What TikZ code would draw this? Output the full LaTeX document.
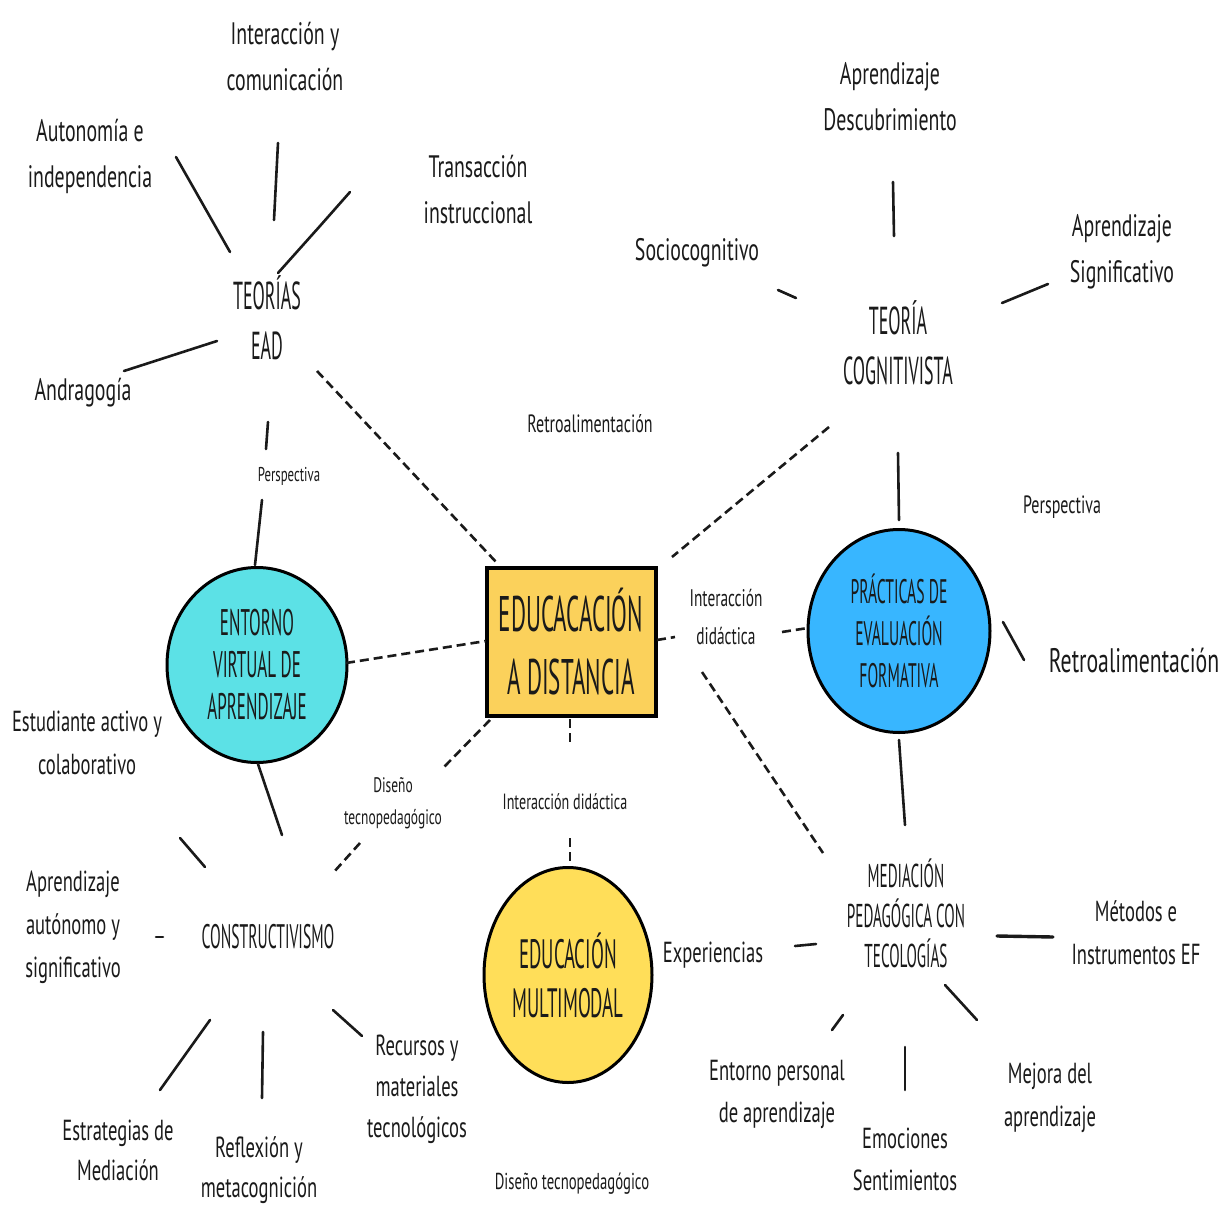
\documentclass[tikz,border=0pt]{standalone}
\usepackage{fontspec}
\setmainfont{PT Sans}[FakeStretch=0.64]
\newfontfamily\capsfont{PT Sans}[FakeStretch=0.46]
\usetikzlibrary{shapes.geometric}

\definecolor{boxyellow}{HTML}{FBD15B}
\definecolor{aqua}{HTML}{5CE1E6}
\definecolor{sky}{HTML}{38B6FF}
\definecolor{sun}{HTML}{FFDE59}
\definecolor{ink}{HTML}{1A1A1A}

\newcommand\hw[2]{\fontsize{#1}{#2}\selectfont}

\tikzset{
  hand/.style={font=\hw{31}{46}, align=center, inner sep=0pt, text=ink},
  note/.style={font=\hw{22}{32}, align=center, inner sep=0pt, text=ink},
  caps/.style={font=\capsfont\hw{39}{50}, align=center, inner sep=0pt, text=ink},
  bubble/.style={ellipse, draw=black, line width=3pt, inner sep=0pt,
                 font=\capsfont\hw{37}{42}, align=center, text=ink},
  link/.style={line width=2.6pt, line cap=round, draw=ink},
  dlink/.style={line width=2.6pt, draw=ink, dash pattern=on 9pt off 5pt}
}

\begin{document}
\begin{tikzpicture}[x=1pt,y=-1pt]
\useasboundingbox[fill=white] (0,0) rectangle (1224,1207);

% ---------- Theories of distance education ----------
\node[caps] (ead) at (267,318) {TEORÍAS\\EAD};
\node[hand] (interac) at (285,57) {Interacción y\\comunicación};
\node[hand] (auton) at (90,156) {Autonomía e\\independencia};
\node[hand] (transac) at (478,190) {Transacción\\instruccional};
\node[hand] (andra) at (83,393) {Andragogía};
\node[note, font=\hw{20}{28}] (persp1) at (289,476) {Perspectiva};

\draw[link] (176,157) -- (230,252);
\draw[link] (278,143) -- (274,220);
\draw[link] (350,192) -- (320,226) -- (278,273);
\draw[link] (217,341) -- (124,371);
\draw[link] (268,422) -- (266,449);
\draw[link] (262,500) -- (255,565);

% ---------- Cognitivist theory ----------
\node[caps] (cogn) at (898,343) {TEORÍA\\COGNITIVISTA};
\node[hand] (descub) at (890,97) {Aprendizaje\\Descubrimiento};
\node[hand] (socio) at (697,253) {Sociocognitivo};
\node[hand] (signif) at (1122,252) {Aprendizaje\\Significativo};
\node[note, font=\hw{25}{32}] (retro1) at (590,424) {Retroalimentación};
\node[note, font=\hw{25}{32}] (persp2) at (1062,507) {Perspectiva};

\draw[link] (893,182) -- (894,236);
\draw[link] (778,290) -- (796,298);
\draw[link] (1002,303) -- (1048,284);
\draw[link] (898,453) -- (899,520);

% ---------- Central concept ----------
\node[draw=black, fill=boxyellow, line width=4pt, minimum width=169pt,
      minimum height=148pt, inner sep=0pt, align=center,
      font=\capsfont\hw{50}{63}, text=ink] (edu) at (571,642)
      {EDUCACACIÓN\\A DISTANCIA};

% ---------- Bubbles ----------
\node[bubble, fill=aqua, minimum width=180pt, minimum height=195pt]
     (eva) at (257,665) {ENTORNO\\VIRTUAL DE\\APRENDIZAJE};
\node[bubble, fill=sky, minimum width=182pt, minimum height=203pt,
      font=\capsfont\hw{34}{42}]
     (pef) at (899,631) {PRÁCTICAS DE\\EVALUACIÓN\\FORMATIVA};
\node[bubble, fill=sun, minimum width=168pt, minimum height=215pt,
      font=\capsfont\hw{41}{49}]
     (mm) at (568,975) {EDUCACIÓN\\MULTIMODAL};

% dashed links around the central box
\draw[dlink] (317,371) -- (497,563);
\draw[dlink] (829,427) -- (672,557);
\draw[dlink] (346,663) -- (486,641);
\draw[dlink] (657,640) -- (675,637);
\draw[dlink] (782,632) -- (808,628);
\draw[dlink] (570,719) -- (570,742);
\draw[dlink] (570,838) -- (570,866);
\draw[dlink] (490,720) -- (443,768);
\draw[dlink] (360,843) -- (333,873);
\draw[dlink] (702,672) -- (823,853);

\node[note, font=\hw{24}{38}] (inter1) at (726,617) {Interacción\\didáctica};
\node[note] (inter2) at (565,802) {Interacción didáctica};
\node[note, font=\hw{21}{32}] (dis1) at (393,803) {Diseño\\tecnopedagógico};

\node[hand, font=\hw{34}{40}] (retro2) at (1134,660) {Retroalimentación};
\draw[link] (1003,622) -- (1024,660);

% ---------- Constructivism ----------
\node[caps, font=\capsfont\hw{34}{40}] (constr) at (268,937) {CONSTRUCTIVISMO};
\node[hand, font=\hw{29}{43}] (estud) at (87,743) {Estudiante activo y\\colaborativo};
\node[hand, font=\hw{29}{43}] (auto) at (73,927) {Aprendizaje\\autónomo y\\significativo};
\node[hand, font=\hw{29}{40}] (estrat) at (118,1150) {Estrategias de\\Mediación};
\node[hand, font=\hw{29}{40}] (reflex) at (259,1170) {Reflexión y\\metacognición};
\node[hand, font=\hw{29}{41}] (recur) at (417,1089) {Recursos y\\materiales\\tecnológicos};

\draw[link] (258,764) -- (282,835);
\draw[link] (180,838) -- (205,867);
\draw[link] (156,937) -- (163,937);
\draw[link] (210,1020) -- (160,1090);
\draw[link] (263,1032) -- (262,1098);
\draw[link] (333,1010) -- (362,1036);

% ---------- Pedagogical mediation ----------
\node[caps, font=\capsfont\hw{33}{40}] (med) at (906,913)
     {MEDIACIÓN\\PEDAGÓGICA CON\\TECOLOGÍAS};
\node[hand, font=\hw{29}{43}] (metod) at (1136,933) {Métodos e\\Instrumentos EF};
\node[hand, font=\hw{29}{40}] (exper) at (713,955) {Experiencias};
\node[hand, font=\hw{29}{42}] (epa) at (777,1094) {Entorno personal\\de aprendizaje};
\node[hand, font=\hw{29}{42}] (emoc) at (905,1159) {Emociones\\Sentimientos};
\node[hand, font=\hw{29}{43}] (mejora) at (1050,1098) {Mejora del\\aprendizaje};
\node[note, font=\hw{23}{30}] (dis2) at (572,1184) {Diseño tecnopedagógico};

\draw[link] (899,740) -- (905,825);
\draw[link] (795,946) -- (816,944);
\draw[link, line width=3.4pt] (997,936) -- (1053,937);
\draw[link] (843,1015) -- (832,1030);
\draw[link] (905,1047) -- (905,1090);
\draw[link] (945,985) -- (977,1020);
\end{tikzpicture}
\end{document}
